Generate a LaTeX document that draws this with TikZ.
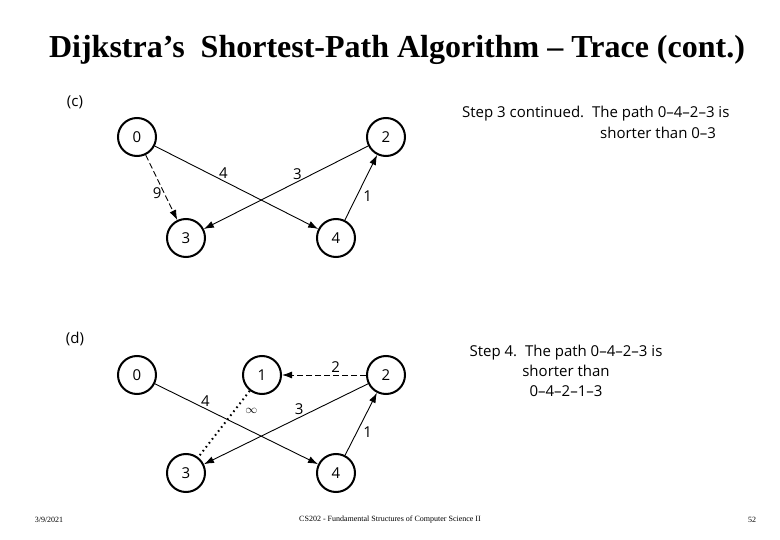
\documentclass[tikz,border=0pt]{standalone}
\usepackage{fontspec}
\setmainfont{Liberation Serif}
\newfontfamily\stepfont{Open Sans}
\usetikzlibrary{arrows.meta, positioning}

\begin{document}
\begin{tikzpicture}[
  x=1pt,y=-1pt,
  font=\stepfont\fontsize{15}{20}\selectfont,
  vtx/.style={draw,circle,line width=2pt,minimum size=38pt,inner sep=0pt},
  arr/.style={-{Latex[length=10pt,width=7pt]},line width=0.9pt},
  dsh/.style={arr,dash pattern=on 6pt off 3pt},
  dot/.style={line width=2pt,dash pattern=on 1.6pt off 3.4pt},
  wgt/.style={inner sep=2pt},
  note/.style={align=center,inner sep=0pt}
]
  \useasboundingbox (0,0) rectangle (780,540);

  % Title
  \node[font=\fontsize{32}{36}\selectfont\bfseries] (title) at (397,50)
    {Dijkstra’s\ \ Shortest-Path Algorithm – Trace (cont.)};

  % Part (c)
  \node (lc) at (75,102) {(c)};
  \node[vtx] (c0) at (137,137) {0};
  \node[vtx] (c2) at (386,137) {2};
  \node[vtx] (c3) at (186,238) {3};
  \node[vtx] (c4) at (336,238) {4};

  \draw[dsh] (c0) -- node[wgt,pos=0.58,left] {9} (c3);
  \draw[arr] (c0) -- node[wgt,pos=0.42,above] {4} (c4);
  \draw[arr] (c2) -- node[wgt,pos=0.43,above] {3} (c3);
  \draw[arr] (c4) -- node[wgt,pos=0.37,right=4pt] {1} (c2);

  \node[anchor=west,inner sep=0pt] (tc1) at (462,114)
    {Step 3 continued.\ \ The path 0–4–2–3 is};
  \node[anchor=west,inner sep=0pt] (tc2) at (600,133) {shorter than 0–3};

  % Part (d)
  \node (ld) at (75,339) {(d)};
  \node[vtx] (d0) at (137,375) {0};
  \node[vtx] (d1) at (262,375) {1};
  \node[vtx] (d2) at (386,375) {2};
  \node[vtx] (d3) at (186,473) {3};
  \node[vtx] (d4) at (336,473) {4};

  \draw[arr] (d0) -- node[wgt,pos=0.31,above] {4} (d4);
  \draw[dsh] (d2) -- node[wgt,pos=0.36,above] {2} (d1);
  \draw[dot] (d1) -- node[wgt,pos=0.3,right=8pt,font=\fontsize{13}{13}\selectfont] {$\infty$} (d3);
  \draw[arr] (d2) -- node[wgt,pos=0.42,above] {3} (d3);
  \draw[arr] (d4) -- node[wgt,pos=0.37,right=4pt] {1} (d2);

  \node[note] (td) at (566,371)
    {Step 4.\ \ The path 0–4–2–3 is\\shorter than\\0–4–2–1–3};

  % Footer
  \node[font=\rmfamily\fontsize{8}{9}\selectfont] (date) at (49,520) {3/9/2021};
  \node[font=\rmfamily\fontsize{8}{9}\selectfont] (course) at (390,520)
    {CS202 - Fundamental Structures of Computer Science II};
  \node[font=\rmfamily\fontsize{8}{9}\selectfont] (page) at (752,520) {52};
\end{tikzpicture}
\end{document}
